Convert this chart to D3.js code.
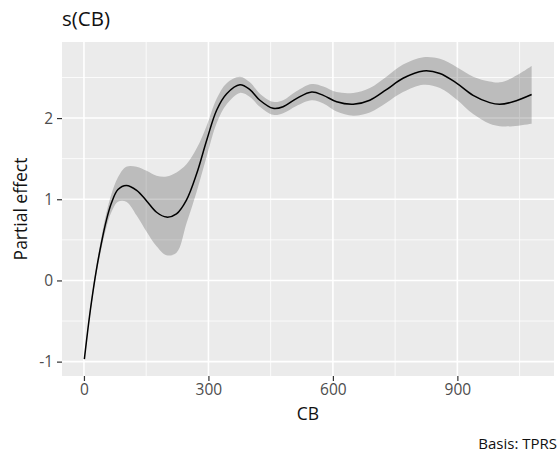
<!DOCTYPE html>
<html>
<head>
<meta charset="utf-8">
<script src="https://cdn.jsdelivr.net/npm/d3@7"></script>
<style>
  html, body { margin: 0; padding: 0; background: #fff; }
  svg { display: block; font-family: "Open Sans", "Noto Sans", sans-serif; }
</style>
</head>
<body>
<svg id="chart" width="560" height="454"></svg>
<script>
// ---- data ----
const cb = [1, 10, 18, 30, 42, 54, 66, 82, 102, 127, 151, 175, 199, 223, 247, 272, 296, 320, 344, 376, 400, 424, 456, 480, 512, 549, 577, 609, 649, 689, 729, 769, 818, 858, 898, 938, 978, 1002, 1034, 1079];
const estimate = [-0.97, -0.58, -0.27, 0.13, 0.46, 0.74, 0.95, 1.12, 1.17, 1.11, 0.98, 0.84, 0.78, 0.82, 0.99, 1.32, 1.73, 2.10, 2.30, 2.41, 2.35, 2.22, 2.12, 2.14, 2.24, 2.32, 2.28, 2.20, 2.17, 2.22, 2.35, 2.49, 2.58, 2.55, 2.43, 2.28, 2.19, 2.17, 2.20, 2.29];
const lower = [-0.99, -0.61, -0.31, 0.08, 0.39, 0.65, 0.84, 0.97, 0.97, 0.80, 0.60, 0.42, 0.31, 0.34, 0.70, 1.10, 1.53, 1.94, 2.17, 2.31, 2.26, 2.14, 2.04, 2.06, 2.15, 2.22, 2.18, 2.08, 2.03, 2.07, 2.19, 2.32, 2.41, 2.37, 2.23, 2.05, 1.93, 1.90, 1.90, 1.93];
const upper = [-0.95, -0.55, -0.23, 0.18, 0.53, 0.83, 1.06, 1.27, 1.40, 1.40, 1.35, 1.29, 1.28, 1.33, 1.43, 1.63, 1.91, 2.24, 2.43, 2.51, 2.44, 2.30, 2.20, 2.22, 2.33, 2.42, 2.39, 2.32, 2.31, 2.37, 2.51, 2.66, 2.75, 2.73, 2.63, 2.51, 2.45, 2.44, 2.50, 2.64];
const xTicks = [0, 300, 600, 900];
const yTicks = [-1, 0, 1, 2];
const xMinor = [150, 450, 750, 1050];
const yMinor = [-0.5, 0.5, 1.5, 2.5];
const titleText = "s(CB)";
const xTitle = "CB";
const yTitle = "Partial effect";
const captionText = "Basis: TPRS";

const rows = cb.map((c, i) => ({ cb: c, est: estimate[i], lo: lower[i], hi: upper[i] }));

// ---- layout ----
const panel = { left: 62, right: 554, top: 42, bottom: 376 };
const svg = d3.select("#chart");

function expand(ext) { const d = ext[1] - ext[0]; return [ext[0] - 0.05 * d, ext[1] + 0.05 * d]; }
const x = d3.scaleLinear().domain(expand(d3.extent(cb))).range([panel.left, panel.right]);
const y = d3.scaleLinear().domain(expand([d3.min(lower), d3.max(upper)])).range([panel.bottom, panel.top]);

// panel background
svg.append("rect").attr("x", panel.left).attr("y", panel.top)
  .attr("width", panel.right - panel.left).attr("height", panel.bottom - panel.top)
  .attr("fill", "#EBEBEB");

const grid = svg.append("g");
xMinor.forEach(v => grid.append("line").attr("x1", x(v)).attr("x2", x(v)).attr("y1", panel.top).attr("y2", panel.bottom).attr("stroke", "#fff").attr("stroke-width", 0.8));
yMinor.forEach(v => grid.append("line").attr("y1", y(v)).attr("y2", y(v)).attr("x1", panel.left).attr("x2", panel.right).attr("stroke", "#fff").attr("stroke-width", 0.8));
xTicks.forEach(v => grid.append("line").attr("x1", x(v)).attr("x2", x(v)).attr("y1", panel.top).attr("y2", panel.bottom).attr("stroke", "#fff").attr("stroke-width", 1.6));
yTicks.forEach(v => grid.append("line").attr("y1", y(v)).attr("y2", y(v)).attr("x1", panel.left).attr("x2", panel.right).attr("stroke", "#fff").attr("stroke-width", 1.6));

// confidence band
const area = d3.area().x(d => x(d.cb)).y0(d => y(d.lo)).y1(d => y(d.hi)).curve(d3.curveCatmullRom);
svg.append("path").datum(rows).attr("d", area).attr("fill", "#000").attr("fill-opacity", 0.2);

// estimate line
const line = d3.line().x(d => x(d.cb)).y(d => y(d.est)).curve(d3.curveCatmullRom);
svg.append("path").datum(rows).attr("d", line).attr("fill", "none").attr("stroke", "#000").attr("stroke-width", 1.5);

// axes
const fmt = d => String(d);
const xAxis = svg.append("g").attr("transform", `translate(0,${panel.bottom})`)
  .call(d3.axisBottom(x).tickValues(xTicks).tickSize(5).tickPadding(3).tickFormat(fmt));
const yAxis = svg.append("g").attr("transform", `translate(${panel.left},0)`)
  .call(d3.axisLeft(y).tickValues(yTicks).tickSize(5).tickPadding(4).tickFormat(fmt));
[xAxis, yAxis].forEach(a => {
  a.select(".domain").remove();
  a.selectAll(".tick line").attr("stroke", "#333").attr("stroke-width", 1.2);
  a.selectAll(".tick text").attr("fill", "#4D4D4D").style("font-size", "15.5px").style("font-family", "'Open Sans', sans-serif");
});

// titles
svg.append("text").attr("x", panel.left).attr("y", 26).text(titleText)
  .style("font-size", "20.5px").attr("fill", "#111");
svg.append("text").attr("x", (panel.left + panel.right) / 2).attr("y", 420).attr("text-anchor", "middle")
  .text(xTitle).style("font-size", "17.5px").attr("fill", "#111");
svg.append("text").attr("transform", `translate(27,${(panel.top + panel.bottom) / 2}) rotate(-90)`)
  .attr("text-anchor", "middle").text(yTitle).style("font-size", "17.5px").attr("fill", "#111");
svg.append("text").attr("x", 557).attr("y", 449).attr("text-anchor", "end")
  .text(captionText).style("font-size", "15px").attr("fill", "#111");
</script>
</body>
</html>
